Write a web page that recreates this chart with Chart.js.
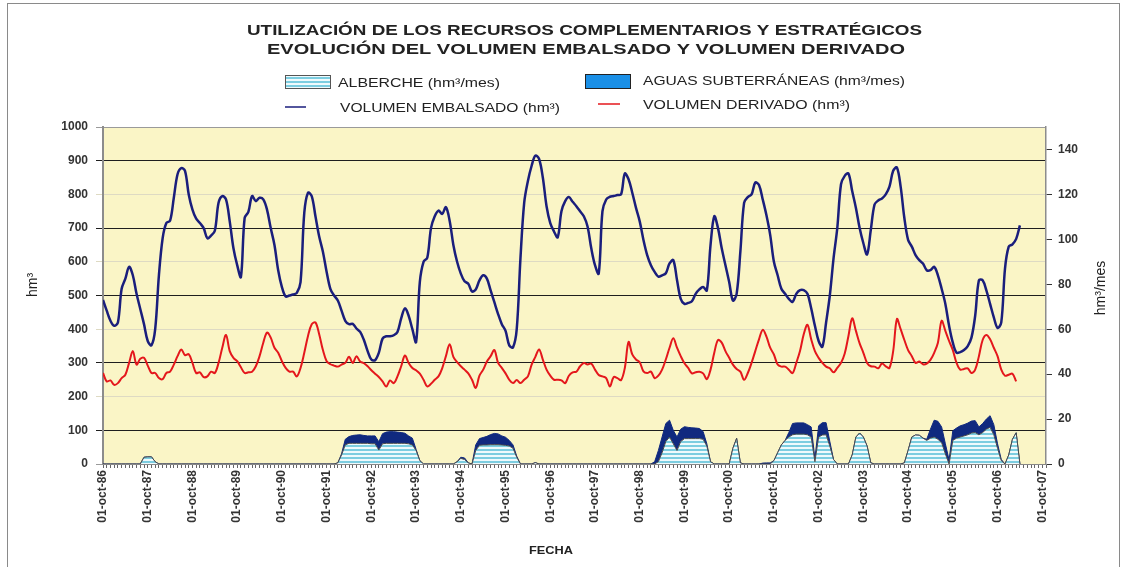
<!DOCTYPE html>
<html>
<head>
<meta charset="utf-8">
<script src="https://cdn.jsdelivr.net/npm/chart.js@4.4.1/dist/chart.umd.min.js"></script>
<style>
  html, body { margin: 0; padding: 0; background: #fff; }
  canvas { display: block; }
</style>
</head>
<body>
<canvas id="chart" width="1129" height="567"></canvas>
<script>
// Monthly series starting 01-oct-86 (index 0 = oct-86).
const yearLabels = [
  '01-oct-86', '01-oct-87', '01-oct-88', '01-oct-89', '01-oct-90', '01-oct-91',
  '01-oct-92', '01-oct-93', '01-oct-94', '01-oct-95', '01-oct-96', '01-oct-97',
  '01-oct-98', '01-oct-99', '01-oct-00', '01-oct-01', '01-oct-02', '01-oct-03',
  '01-oct-04', '01-oct-05', '01-oct-06', '01-oct-07',
];

// hm3, left axis
const volumenEmbalsado = [
  487, 455, 425, 410, 420, 520, 550, 585, 560, 505, 460, 415,
  365, 352, 400, 560, 670, 715, 722, 790, 860, 878, 870, 800,
  755, 728, 715, 700, 670, 678, 692, 775, 795, 785, 720, 640,
  590, 555, 730, 748, 795, 780, 790, 785, 755, 700, 650, 575,
  525, 497, 500, 503, 508, 540, 745, 805, 795, 735, 675, 630,
  570, 520, 500, 485, 455, 425, 415, 416, 402, 392, 368, 335,
  310, 308, 330, 372, 379, 379, 382, 392, 432, 462, 440, 400,
  362, 540, 600, 612, 700, 735, 752, 742, 762, 722, 650, 600,
  565, 542, 535, 512, 518, 545, 560, 550, 515, 480, 445, 415,
  395, 352, 346, 400, 610, 775, 840, 885, 915, 905, 850, 765,
  715, 690, 673, 750, 780, 792, 778, 765, 750, 735, 705, 640,
  590, 565, 750, 785, 793, 795, 798, 800, 862, 845, 805, 760,
  720, 665, 620, 590, 570, 556, 560, 566, 595, 605, 546, 490,
  475, 478, 483, 505, 518, 525, 515, 650, 735, 700, 640, 590,
  540, 485, 505, 630, 775, 792, 800, 835, 828, 785, 738, 680,
  600, 560, 520, 505, 490, 481, 505, 516, 516, 505, 462, 410,
  365, 348, 420, 500, 610, 700, 830, 855, 862, 810, 760, 700,
  655, 622, 695, 770, 782, 788, 800, 823, 870, 880, 823, 730,
  665, 645, 620, 605, 595, 575, 575, 585, 560, 520, 475, 410,
  360, 330, 332, 338, 350, 375, 440, 545, 545, 515, 475, 435,
  404, 420, 580, 645, 652, 668, 708,
];

// hm3, left axis
const volumenDerivado = [
  270, 245, 248, 235, 240, 255, 265, 300, 335, 295, 312, 315,
  292, 270, 270, 255, 252, 270, 274, 295, 320, 340, 323, 326,
  300, 270, 272, 258, 260, 274, 270, 300, 345, 383, 335, 315,
  305, 287, 270, 272, 274, 290, 320, 360, 390, 375, 345, 330,
  305, 285, 274, 274, 260, 285, 330, 380, 415, 420, 385, 338,
  305, 296, 292, 289, 295, 300, 318, 300, 320, 304, 299, 290,
  278, 268, 258, 245, 230, 248, 240, 260, 290, 322, 300, 285,
  278, 268, 250, 230, 238, 250, 260, 284, 320, 355, 318, 302,
  290, 280, 269, 250, 226, 262, 280, 304, 320, 338, 300, 285,
  269, 250, 240, 249, 240, 250, 260, 295, 318, 340, 310, 280,
  262, 250, 250, 248, 240, 262, 272, 274, 290, 300, 295, 298,
  280, 264, 260, 255, 230, 258, 255, 249, 285, 362, 325, 310,
  302, 275, 270, 274, 255, 262, 280, 310, 345, 373, 345, 320,
  299, 285, 269, 272, 274, 269, 252, 280, 330, 368, 360, 335,
  315, 295, 282, 274, 250, 270, 300, 335, 370, 398, 378, 345,
  325, 295, 289, 289, 280, 270, 300, 335, 385, 413, 370, 335,
  315, 300, 289, 284, 272, 285, 300, 328, 380, 432, 395, 358,
  330, 300, 290, 289, 284, 298, 290, 285, 335, 430, 400, 368,
  338, 320, 300, 304, 296, 298, 309, 330, 360, 425, 395, 365,
  338, 300, 280, 282, 284, 270, 280, 320, 368, 383, 370, 345,
  320, 280, 262, 265, 268, 245,
];

// hm3/mes, right axis (stacked areas)
const alberche = [
  0, 0, 0, 0, 0, 0, 0, 0, 0, 0, 0, 3,
  3.2, 3.2, 1, 0, 0, 0, 0, 0, 0, 0, 0, 0,
  0, 0, 0, 0, 0, 0, 0, 0, 0, 0, 0, 0,
  0, 0, 0, 0, 0, 0, 0, 0, 0, 0, 0, 0,
  0, 0, 0, 0, 0, 0, 0, 0, 0, 0, 0, 0,
  0, 0, 0, 0.5, 4, 8.5, 9.2, 9.2, 9.2, 9.2, 9.2, 9.2,
  9, 9, 6.2, 9, 9.2, 9.2, 9.2, 9.2, 9.2, 9.2, 9, 8.5,
  6, 1.5, 0, 0, 0, 0, 0, 0, 0, 0, 0, 1,
  2.5, 2, 0.5, 0, 6, 8.3, 8.5, 8.5, 8.6, 8.6, 8.6, 8.5,
  8.3, 8, 7, 3, 0, 0, 0, 0, 0.6, 0, 0, 0,
  0, 0, 0, 0, 0, 0, 0, 0, 0, 0, 0, 0,
  0, 0, 0, 0, 0, 0, 0, 0, 0, 0, 0, 0,
  0, 0, 0, 0, 0, 1, 5, 10, 12, 9, 6, 10,
  11.3, 11.3, 11.3, 11.3, 11.3, 11, 8, 1, 0, 0, 0, 0,
  0, 7, 11.4, 0.5, 0, 0, 0, 0, 0, 0, 0, 0,
  1.5, 5, 8.5, 10.5, 12, 13, 13.3, 13.3, 13.3, 13, 12, 1,
  12, 12.9, 13, 8, 2, 0, 0, 0, 0, 4, 12, 13.8,
  12, 8, 0.5, 0, 0, 0, 0, 0, 0, 0, 0, 0.5,
  6, 12, 12.9, 12.8, 11.5, 10.5, 11.5, 12, 11, 9.5, 4.5, 0,
  10.5, 11.5, 12, 12.5, 13, 13.8, 14, 13, 14, 15.5, 16.3, 13,
  7, 1.5, 0, 4, 11, 13.9, 0,
];

const aguasSubterraneas = [
  0, 0, 0, 0, 0, 0, 0, 0, 0, 0, 0, 0,
  0, 0, 0, 0, 0, 0, 0, 0, 0, 0, 0, 0,
  0, 0, 0, 0, 0, 0, 0, 0, 0, 0, 0, 0,
  0, 0, 0, 0, 0, 0, 0, 0, 0, 0, 0, 0,
  0, 0, 0, 0, 0, 0, 0, 0, 0, 0, 0, 0,
  0, 0, 0, 0, 0.5, 2.5, 3, 3.5, 3.7, 3.8, 3.5, 3.3,
  3.5, 3.5, 3.7, 4.5, 5, 5.2, 5.2, 5, 4.8, 4.5, 3.5, 3,
  0.5, 0, 0, 0, 0, 0, 0, 0, 0, 0, 0, 0,
  0.5, 0.7, 0, 0, 2.5, 3, 3.3, 3.8, 4.5, 5, 4.8, 4,
  3.6, 2.5, 1.5, 0.5, 0, 0, 0, 0, 0, 0, 0, 0,
  0, 0, 0, 0, 0, 0, 0, 0, 0, 0, 0, 0,
  0, 0, 0, 0, 0, 0, 0, 0, 0, 0, 0, 0,
  0, 0, 0, 0, 1, 5, 7, 8, 7.5, 6, 6, 5.5,
  5.3, 5, 4.8, 4.7, 4.5, 3.5, 1, 0, 0, 0, 0, 0,
  0, 0, 0, 0, 0, 0, 0, 0, 0, 0.4, 0.5, 0.5,
  0, 0, 0, 0, 2, 5, 5, 5, 5, 4.5, 4.5, 1.5,
  5, 5.5, 5.4, 2, 0, 0, 0, 0, 0, 0, 0, 0,
  0, 0, 0, 0, 0, 0, 0, 0, 0, 0, 0, 0,
  0, 0, 0, 0, 0, 0.5, 4, 7.5, 8, 7, 4.5, 1.8,
  4.3, 4.5, 5, 5, 5.2, 5.3, 5.3, 3.5, 4, 4.5, 5.2, 4.5,
  2, 0.5, 0, 0, 0, 0, 0,
];

const FONT = '"Liberation Sans", Arial, sans-serif';
const NAVY = '#1a1e7c';
const RED = '#e4171c';
const AREA_NAVY = '#10297f';
const PLOT_BG = '#faf5c6';

function stripes() {
  const c = document.createElement('canvas');
  c.width = 4; c.height = 4;
  const g = c.getContext('2d');
  g.fillStyle = '#effafc'; g.fillRect(0, 0, 4, 4);
  g.fillStyle = '#7ccde0'; g.fillRect(0, 1, 4, 2);
  return g.createPattern(c, 'repeat');
}
const hatch = stripes();

const xy = (arr) => arr.map((v, i) => ({ x: i, y: v }));

// The source text is horizontally stretched: draw it squeezed into a width.
function wideText(ctx, text, x, y, font, align, sx) {
  ctx.save();
  ctx.font = font;
  ctx.textBaseline = 'middle';
  ctx.textAlign = 'left';
  const w = ctx.measureText(text).width * sx;
  const left = align === 'center' ? x - w / 2 : x;
  ctx.translate(left, y);
  ctx.scale(sx, 1);
  ctx.fillText(text, 0, 0);
  ctx.restore();
}

function fitText(ctx, text, x0, x1, y, font) {
  ctx.save();
  ctx.font = font;
  const sx = (x1 - x0) / ctx.measureText(text).width;
  ctx.restore();
  wideText(ctx, text, x0, y, font, 'left', sx);
}

function upText(ctx, text, x, y, font) {
  ctx.save();
  ctx.font = font;
  ctx.textAlign = 'center';
  ctx.textBaseline = 'middle';
  ctx.translate(x, y);
  ctx.rotate(-Math.PI / 2);
  ctx.fillText(text, 0, 0);
  ctx.restore();
}

// Plot background, title, legend, axis titles and outer frame.
const decorPlugin = {
  id: 'decor',
  beforeDraw(chart) {
    const { ctx, chartArea: a } = chart;
    ctx.save();
    ctx.fillStyle = '#fff';
    ctx.fillRect(0, 0, chart.width, chart.height);
    ctx.fillStyle = PLOT_BG;
    ctx.fillRect(a.left, a.top, a.right - a.left, a.bottom - a.top);
    ctx.restore();
  },
  afterDraw(chart) {
    const ctx = chart.ctx;
    ctx.save();
    ctx.fillStyle = '#222';
    const tf = 'bold 15px ' + FONT;
    fitText(ctx, 'UTILIZACIÓN DE LOS RECURSOS COMPLEMENTARIOS Y ESTRATÉGICOS', 247, 922, 31, tf);
    fitText(ctx, 'EVOLUCIÓN DEL VOLUMEN EMBALSADO Y VOLUMEN DERIVADO', 267, 905, 50, tf);

    // legend
    ctx.fillStyle = hatch;
    ctx.fillRect(285, 75, 45, 13);
    ctx.strokeStyle = '#555'; ctx.lineWidth = 1;
    ctx.strokeRect(285.5, 75.5, 45, 13);
    ctx.fillStyle = '#1a8fe6';
    ctx.fillRect(585, 74, 45, 14);
    ctx.strokeStyle = '#222';
    ctx.strokeRect(585.5, 74.5, 45, 14);
    ctx.lineWidth = 1.5;
    ctx.strokeStyle = NAVY;
    ctx.beginPath(); ctx.moveTo(285, 107); ctx.lineTo(306, 107); ctx.stroke();
    ctx.strokeStyle = RED;
    ctx.beginPath(); ctx.moveTo(598, 104); ctx.lineTo(620, 104); ctx.stroke();
    ctx.fillStyle = '#222';
    const lf = '13px ' + FONT;
    fitText(ctx, 'ALBERCHE (hm³/mes)', 338, 500, 83, lf);
    fitText(ctx, 'AGUAS SUBTERRÁNEAS (hm³/mes)', 643, 905, 81, lf);
    fitText(ctx, 'VOLUMEN EMBALSADO (hm³)', 340, 560, 108, lf);
    fitText(ctx, 'VOLUMEN DERIVADO (hm³)', 643, 850, 105, lf);

    // axis titles
    upText(ctx, 'hm³', 33, 285, '14px ' + FONT);
    upText(ctx, 'hm³/mes', 1101, 288, '14px ' + FONT);
    fitText(ctx, 'FECHA', 529, 573, 551, 'bold 11px ' + FONT);

    // outer frame
    ctx.strokeStyle = '#8a8a8a';
    ctx.lineWidth = 1;
    ctx.strokeRect(7.5, 3.5, 1112, 580);
    ctx.restore();
  },
};

const tickFont = { family: FONT, size: 12, weight: 'bold' };

new Chart(document.getElementById('chart'), {
  type: 'line',
  data: {
    datasets: [
      {
        label: 'VOLUMEN EMBALSADO (hm³)', data: xy(volumenEmbalsado), yAxisID: 'y',
        borderColor: NAVY, borderWidth: 2.5, tension: 0.35, pointRadius: 0, fill: false, order: 1,
      },
      {
        label: 'VOLUMEN DERIVADO (hm³)', data: xy(volumenDerivado), yAxisID: 'y',
        borderColor: RED, borderWidth: 2, tension: 0.35, pointRadius: 0, fill: false, order: 2,
      },
      {
        label: 'ALBERCHE (hm³/mes)', data: xy(alberche), yAxisID: 'y1', stack: 'rec',
        borderColor: '#4a4a4a', borderWidth: 1, backgroundColor: hatch,
        tension: 0, pointRadius: 0, fill: 'origin', order: 3,
      },
      {
        label: 'AGUAS SUBTERRÁNEAS (hm³/mes)', data: xy(aguasSubterraneas), yAxisID: 'y1', stack: 'rec',
        borderColor: AREA_NAVY, borderWidth: 1, backgroundColor: AREA_NAVY,
        tension: 0, pointRadius: 0, fill: '-1', order: 4,
      },
    ],
  },
  options: {
    responsive: false,
    animation: false,
    layout: { padding: { top: 127, left: 0, right: 0, bottom: 0 } },
    scales: {
      x: {
        type: 'linear', min: 0, max: 253,
        afterFit(scale) { scale.height = 103; },
        grid: { drawOnChartArea: false, tickLength: 4, color: '#666' },
        border: { color: '#888', width: 1 },
        ticks: {
          stepSize: 1, autoSkip: false, minRotation: 90, maxRotation: 90, padding: 2,
          color: '#333', font: { family: FONT, size: 12, weight: 'bold' },
          callback: (v) => (v % 12 === 0 ? yearLabels[v / 12] : ''),
        },
      },
      y: {
        position: 'left', min: 0, max: 1000,
        afterFit(scale) { scale.width = 103; },
        grid: {
          tickLength: 7,
          color: (c) => {
            const v = c.tick.value;
            if (v === 1000 || v === 0) return '#9a9a9a';
            return v % 200 === 100 ? '#1e1e1e' : '#dedac3';
          },
          lineWidth: 1,
        },
        border: { color: '#8c8c8c', width: 2 },
        ticks: { stepSize: 100, padding: 8, color: '#333', font: tickFont, callback: (v) => String(v) },
      },
      y1: {
        position: 'right', min: 0, max: 150, stacked: true,
        afterFit(scale) { scale.width = 83; },
        grid: { drawOnChartArea: false, tickLength: 6, color: '#333' },
        border: { color: '#8c8c8c', width: 1.5 },
        ticks: {
          stepSize: 20, includeBounds: false, padding: 6, color: '#333', font: tickFont,
          callback: (v) => String(v),
        },
      },
    },
    plugins: {
      legend: { display: false },
      title: { display: false },
      tooltip: { enabled: false },
    },
  },
  plugins: [decorPlugin],
});
</script>
</body>
</html>
